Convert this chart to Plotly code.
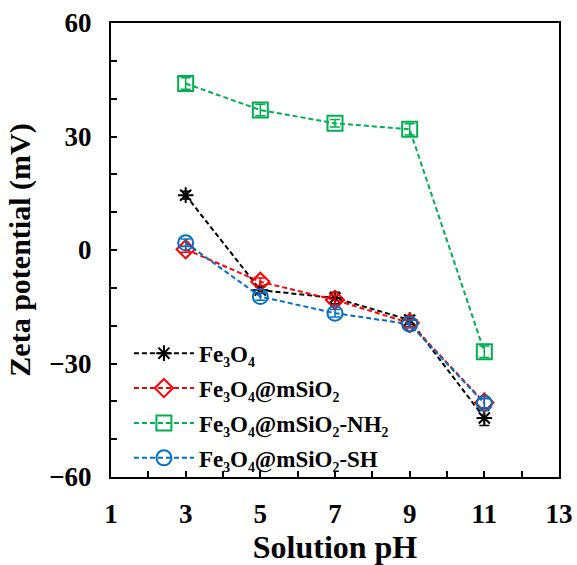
import plotly.graph_objects as go

# Zeta potential vs. solution pH for the four magnetic particle types
ph = [3, 5, 7, 9, 11]

fe3o4 = [14.5, -10.6, -12.7, -18.5, -44.4]
fe3o4_err = [1.0, 0.8, 1.5, 1.2, 2.0]

fe3o4_msio2 = [0.2, -8.4, -13.2, -19.3, -40.3]
fe3o4_msio2_err = [0.8, 1.0, 1.2, 1.0, 1.5]

fe3o4_msio2_nh2 = [44.0, 37.0, 33.5, 31.9, -26.9]
fe3o4_msio2_nh2_err = [1.5, 1.5, 1.0, 1.5, 1.5]

fe3o4_msio2_sh = [1.9, -12.3, -16.7, -19.6, -40.5]
fe3o4_msio2_sh_err = [1.0, 1.0, 1.0, 1.0, 1.2]

series = [
    ("Fe₃O₄", fe3o4, fe3o4_err, "#000000", "asterisk-open", 13),
    ("Fe₃O₄@mSiO₂", fe3o4_msio2, fe3o4_msio2_err, "#FF0000", "diamond-open", 14),
    ("Fe₃O₄@mSiO₂-NH₂", fe3o4_msio2_nh2, fe3o4_msio2_nh2_err, "#00B050", "square-open", 15),
    ("Fe₃O₄@mSiO₂-SH", fe3o4_msio2_sh, fe3o4_msio2_sh_err, "#0070C0", "circle-open", 15),
]

FONT = "Liberation Serif"

fig = go.Figure()
for i, (name, vals, errs, color, symbol, size) in enumerate(series):
    fig.add_trace(go.Scatter(
        x=ph, y=vals, name=name, mode="lines+markers",
        legendgroup=f"g{i}",
        line=dict(color=color, width=2, dash="5px,3px"),
        marker=dict(symbol=symbol, size=size, color=color,
                    line=dict(color=color, width=2)),
        error_y=dict(type="data", array=errs, visible=True,
                     color=color, thickness=1.5, width=5),
    ))

fig.update_layout(
    width=577, height=565,
    margin=dict(l=111, r=18, t=23, b=88),
    plot_bgcolor="white", paper_bgcolor="white",
    font=dict(family=FONT, color="black"),
    showlegend=True,
    legend=dict(
        x=0.04, y=0.32, xanchor="left", yanchor="top",
        bgcolor="rgba(0,0,0,0)", borderwidth=0,
        font=dict(family=FONT, size=23, color="black", weight="bold"),
        traceorder="grouped", tracegroupgap=2, itemwidth=60,
    ),
)

fig.update_xaxes(
    range=[1, 13], tick0=1, dtick=2, automargin=False,
    showline=True, linecolor="black", linewidth=2, mirror=True,
    ticks="inside", ticklen=6, tickwidth=1.5, tickcolor="black",
    minor=dict(ticks="inside", dtick=1, ticklen=6, tickwidth=1.5, tickcolor="black"),
    showgrid=False, zeroline=False,
    tickfont=dict(family=FONT, size=27, color="black", weight="bold"),
    ticklabelstandoff=12,
    title=dict(text="Solution pH", font=dict(family=FONT, size=32, color="black", weight="bold"),
               standoff=10),
)

fig.update_yaxes(
    range=[-60, 60], tick0=-60, dtick=30, automargin=False,
    showline=True, linecolor="black", linewidth=2, mirror=True,
    ticks="inside", ticklen=6, tickwidth=1.5, tickcolor="black",
    minor=dict(ticks="inside", dtick=10, ticklen=6, tickwidth=1.5, tickcolor="black"),
    showgrid=False, zeroline=False,
    tickfont=dict(family=FONT, size=27, color="black", weight="bold"),
    ticklabelstandoff=12,
    title=dict(text="Zeta potential (mV)", font=dict(family=FONT, size=30, color="black", weight="bold"),
               standoff=10),
)

fig.write_html("out.html")
